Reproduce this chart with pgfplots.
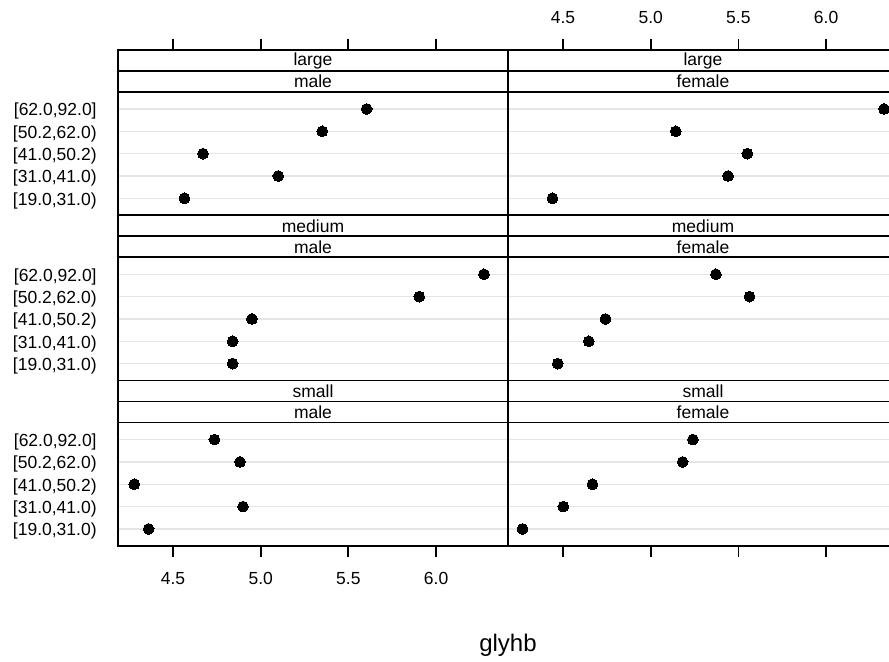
\documentclass[border=0pt]{standalone}
\usepackage{fontspec}
\setmainfont{Liberation Sans}
\usepackage{pgfplots}
\usepackage{pgfplotstable}
\pgfplotsset{compat=1.18}
\definecolor{gray90}{HTML}{E5E5E5}

% columns: y level (1 = [19.0,31.0) ... 5 = [62.0,92.0]); l/m/s = large/medium/small; m/f = male/female
\pgfplotstableread{
y lm lf mm mf sm sf
1 4.565 4.440 4.840 4.470 4.361 4.269
2 5.100 5.441 4.840 4.647 4.899 4.502
3 4.671 5.551 4.950 4.742 4.279 4.668
4 5.351 5.143 5.904 5.563 4.882 5.182
5 5.604 6.330 6.273 5.372 4.736 5.241
}\glyhb

\pgfplotsset{
  base/.style={scale only axis, width=195pt, xmin=4.1864, xmax=6.410, anchor=north west,
    axis line style={line width=0.9pt, black},
    tick style={line width=0.9pt, black},
    tick align=outside, major tick length=5.5pt,
    font=\fontsize{8.75}{10.5}\selectfont,
    xticklabel style={inner sep=0pt}, xticklabel shift=7.5pt,
  },
  strip/.style={base, height=10.5pt, ymin=0, ymax=1, ytick=\empty, xtick=\empty},
  panel/.style={base, height=61.65pt, ymin=0.24, ymax=5.76, ytick={1,2,3,4,5},
    ymajorgrids, grid style={color=gray90, line width=0.6pt},
    ytick style={draw=none}, yticklabels={}, xtick=\empty, clip=false},
  leftlab/.style={yticklabels={{[19.0,31.0)},{[31.0,41.0)},{[41.0,50.2)},{[50.2,62.0)},{[62.0,92.0]}},
    yticklabel style={anchor=east, inner sep=0pt, xshift=-5pt, yshift=-1.2pt}},
  toptick/.style={xtick={4.5,5,5.5,6}, xtick pos=right, xticklabel pos=right, xticklabels={}},
  toplab/.style={xtick={4.5,5,5.5,6}, xtick pos=right, xticklabel pos=right, xticklabels={4.5,5.0,5.5,6.0}},
  bottick/.style={xtick={4.5,5,5.5,6}, xtick pos=left, xticklabel pos=left, xticklabels={}},
  botlab/.style={xtick={4.5,5,5.5,6}, xtick pos=left, xticklabel pos=left, xticklabels={4.5,5.0,5.5,6.0}},
  dots/.style={only marks, mark=*, mark size=2.7pt, mark options={draw=black, fill=black, line width=0pt}},
}

\begin{document}
\begin{tikzpicture}
% ---------- row 1 (large) ----------
\begin{axis}[strip, toptick, at={(59pt,-25pt)}]
  \node at (rel axis cs:0.5,0.5) {large};
\end{axis}
\begin{axis}[strip, at={(59pt,-35.5pt)}]
  \node at (rel axis cs:0.5,0.5) {male};
\end{axis}
\begin{axis}[panel, leftlab, at={(59pt,-46pt)}]
  \addplot[dots] table[x=lm, y=y] {\glyhb};
\end{axis}
\begin{axis}[strip, toplab, at={(254pt,-25pt)}]
  \node at (rel axis cs:0.5,0.5) {large};
\end{axis}
\begin{axis}[strip, at={(254pt,-35.5pt)}]
  \node at (rel axis cs:0.5,0.5) {female};
\end{axis}
\begin{axis}[panel, at={(254pt,-46pt)}]
  \addplot[dots] table[x=lf, y=y] {\glyhb};
\end{axis}
% ---------- row 2 (medium) ----------
\begin{axis}[strip, at={(59pt,-107.65pt)}]
  \node at (rel axis cs:0.5,0.5) {medium};
\end{axis}
\begin{axis}[strip, at={(59pt,-118.15pt)}]
  \node at (rel axis cs:0.5,0.5) {male};
\end{axis}
\begin{axis}[panel, leftlab, at={(59pt,-128.65pt)}]
  \addplot[dots] table[x=mm, y=y] {\glyhb};
\end{axis}
\begin{axis}[strip, at={(254pt,-107.65pt)}]
  \node at (rel axis cs:0.5,0.5) {medium};
\end{axis}
\begin{axis}[strip, at={(254pt,-118.15pt)}]
  \node at (rel axis cs:0.5,0.5) {female};
\end{axis}
\begin{axis}[panel, at={(254pt,-128.65pt)}]
  \addplot[dots] table[x=mf, y=y] {\glyhb};
\end{axis}
% ---------- row 3 (small) ----------
\begin{axis}[strip, at={(59pt,-190.3pt)}]
  \node at (rel axis cs:0.5,0.5) {small};
\end{axis}
\begin{axis}[strip, at={(59pt,-200.8pt)}]
  \node at (rel axis cs:0.5,0.5) {male};
\end{axis}
\begin{axis}[panel, leftlab, botlab, at={(59pt,-211.3pt)}]
  \addplot[dots] table[x=sm, y=y] {\glyhb};
\end{axis}
\begin{axis}[strip, at={(254pt,-190.3pt)}]
  \node at (rel axis cs:0.5,0.5) {small};
\end{axis}
\begin{axis}[strip, at={(254pt,-200.8pt)}]
  \node at (rel axis cs:0.5,0.5) {female};
\end{axis}
\begin{axis}[panel, bottick, at={(254pt,-211.3pt)}]
  \addplot[dots] table[x=sf, y=y] {\glyhb};
\end{axis}
% x label
\node[anchor=base, font=\fontsize{12}{14}\selectfont] at (254pt,-325.5pt) {glyhb};
\pgfresetboundingbox
\useasboundingbox (0pt,0pt) rectangle (444.5pt,-331pt);
\end{tikzpicture}
\end{document}
